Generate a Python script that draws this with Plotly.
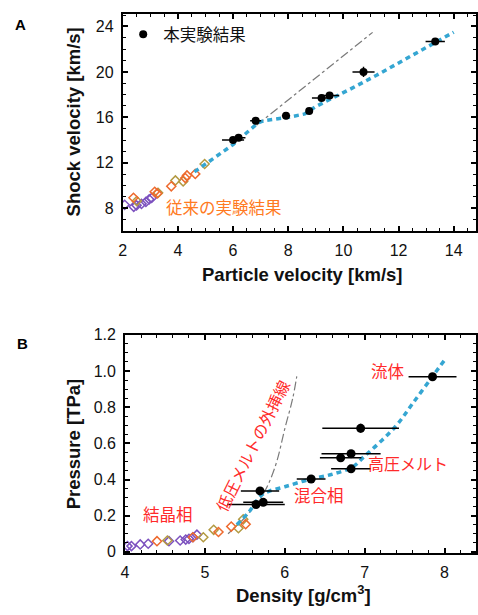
import plotly.graph_objects as go

# ---------------- Panel A data ----------------
a_up = [6.0, 6.2, 6.82, 7.92, 8.76, 9.21, 9.5, 10.73, 13.33]
a_us = [14.0, 14.2, 15.7, 16.13, 16.56, 17.71, 17.92, 20.0, 22.67]
a_up_err = [0.4, 0.25, 0.2, 0.15, 0.1, 0.35, 0.35, 0.4, 0.35]
a_us_err = [0.2, 0.15, 0.3, 0.1, 0.1, 0.1, 0.1, 0.45, 0.1]

a_purple_x = [2.07, 2.40, 2.50, 2.68, 2.84, 2.96, 3.05]
a_purple_y = [8.30, 8.12, 8.25, 8.38, 8.55, 8.78, 8.90]
a_orange_x = [2.39, 3.16, 3.25, 3.76, 4.27, 4.33, 4.63]
a_orange_y = [8.92, 9.44, 9.30, 9.93, 10.65, 10.88, 11.02]
a_olive_x = [2.51, 3.28, 3.91, 4.19, 4.97]
a_olive_y = [8.63, 9.35, 10.44, 10.36, 11.89]

a_fit_x = [4.6, 6.0, 6.9, 7.1, 8.0, 8.6, 9.0, 9.6, 10.3, 11.2, 12.5, 14.0]
a_fit_y = [11.2, 13.6, 15.5, 15.7, 16.0, 16.3, 16.95, 17.65, 18.55, 19.7, 21.5, 23.5]

a_ext_x = [6.85, 11.06]
a_ext_y = [15.3, 23.48]

# ---------------- Panel B data ----------------
b_rho = [7.85, 6.95, 6.83, 6.70, 6.83, 6.33, 5.69, 5.64, 5.73]
b_p = [0.968, 0.683, 0.543, 0.520, 0.459, 0.403, 0.337, 0.262, 0.274]
b_rho_err = [0.30, 0.48, 0.37, 0.26, 0.25, 0.18, 0.24, 0.36, 0.25]
b_p_err = [0.01, 0.025, 0.01, 0.01, 0.01, 0.008, 0.008, 0.008, 0.008]

b_purple_x = [4.03, 4.08, 4.19, 4.29, 4.55, 4.69, 4.76, 4.80, 4.85, 4.90]
b_purple_y = [0.032, 0.032, 0.041, 0.045, 0.059, 0.063, 0.068, 0.072, 0.081, 0.095]
b_orange_x = [4.40, 4.85, 5.17, 5.33, 5.51]
b_orange_y = [0.059, 0.081, 0.110, 0.140, 0.153]
b_olive_x = [4.53, 4.98, 5.11, 5.42, 5.48]
b_olive_y = [0.063, 0.081, 0.122, 0.131, 0.180]

b_fit_x = [5.4, 5.55, 5.7, 5.8, 6.0, 6.3, 6.6, 6.85, 7.0, 7.2, 7.4, 7.6, 7.85, 8.0]
b_fit_y = [0.15, 0.22, 0.31, 0.335, 0.36, 0.40, 0.43, 0.47, 0.53, 0.61, 0.70, 0.82, 0.97, 1.06]

b_ext_x = [5.29, 5.5, 5.7, 5.8, 5.9, 6.0, 6.1, 6.15]
b_ext_y = [0.10, 0.19, 0.30, 0.38, 0.50, 0.68, 0.85, 0.97]

b_yticks = [0, 0.2, 0.4, 0.6, 0.8, 1.0, 1.2]
b_yticktext = ["0", "0.2", "0.4", "0.6", "0.8", "1.0", "1.2"]

PURPLE = "#7d52bf"
ORANGE = "#ee6a2e"
OLIVE = "#b39a42"
CYAN = "#35a6d2"
GRAY = "#7a7a7a"
RED = "#ff2a2a"
JP = "Noto Sans CJK JP"
LAT = "Liberation Sans"

fig = go.Figure()

def diamonds(x, y, color, xa, ya):
    fig.add_trace(go.Scatter(x=x, y=y, mode="markers", xaxis=xa, yaxis=ya,
                             showlegend=False,
                             marker=dict(symbol="diamond-open", size=7, color=color,
                                         line=dict(width=1.5, color=color))))

# Panel A
fig.add_trace(go.Scatter(x=a_ext_x, y=a_ext_y, mode="lines", xaxis="x", yaxis="y",
                         showlegend=False, line=dict(color=GRAY, width=1.2, dash="dashdot")))
diamonds(a_purple_x, a_purple_y, PURPLE, "x", "y")
diamonds(a_olive_x, a_olive_y, OLIVE, "x", "y")
diamonds(a_orange_x, a_orange_y, ORANGE, "x", "y")
fig.add_trace(go.Scatter(x=a_fit_x, y=a_fit_y, mode="lines", xaxis="x", yaxis="y",
                         showlegend=False, line=dict(color=CYAN, width=3.5, dash="5px,4px")))
fig.add_trace(go.Scatter(x=a_up, y=a_us, mode="markers", xaxis="x", yaxis="y",
                         name="本実験結果", showlegend=True,
                         marker=dict(symbol="circle", size=8, color="black"),
                         error_x=dict(type="data", array=a_up_err, color="black", thickness=1.5, width=0),
                         error_y=dict(type="data", array=a_us_err, color="black", thickness=1.5, width=0)))

# Panel B
fig.add_trace(go.Scatter(x=b_ext_x, y=b_ext_y, mode="lines", xaxis="x2", yaxis="y2",
                         showlegend=False, line=dict(color=GRAY, width=1.2, dash="dashdot", shape="spline")))
diamonds(b_purple_x, b_purple_y, PURPLE, "x2", "y2")
diamonds(b_olive_x, b_olive_y, OLIVE, "x2", "y2")
diamonds(b_orange_x, b_orange_y, ORANGE, "x2", "y2")
fig.add_trace(go.Scatter(x=b_fit_x, y=b_fit_y, mode="lines", xaxis="x2", yaxis="y2",
                         showlegend=False, line=dict(color=CYAN, width=3.5, dash="5px,4px", shape="spline")))
fig.add_trace(go.Scatter(x=b_rho, y=b_p, mode="markers", xaxis="x2", yaxis="y2",
                         showlegend=False,
                         marker=dict(symbol="circle", size=9, color="black"),
                         error_x=dict(type="data", array=b_rho_err, color="black", thickness=1.5, width=0),
                         error_y=dict(type="data", array=b_p_err, color="black", thickness=1.5, width=0)))

axis_common = dict(showline=True, linecolor="black", linewidth=1.8, mirror="ticks",
                   ticks="inside", ticklen=5, tickwidth=1.5, tickcolor="black",
                   showgrid=False, zeroline=False,
                   tickfont=dict(family=LAT, size=16, color="#111"))

fig.update_layout(
    width=478, height=615,
    margin=dict(l=0, r=0, t=0, b=0),
    paper_bgcolor="white", plot_bgcolor="white",
    xaxis=dict(domain=[0.251, 0.998], range=[2, 14.81], dtick=2, tick0=2,
               minor=dict(dtick=0.5, ticks="inside", ticklen=3, tickwidth=1.2, tickcolor="black"),
               anchor="y", ticklabelstandoff=4, **axis_common),
    yaxis=dict(domain=[0.6285, 0.990], range=[6, 25.1], tickvals=[8, 12, 16, 20, 24],
               minor=dict(dtick=1, ticks="inside", ticklen=3, tickwidth=1.2, tickcolor="black"),
               anchor="x", ticklabelstandoff=4, **axis_common),
    xaxis2=dict(domain=[0.2559, 0.998], range=[4, 8.395], dtick=1, tick0=4,
                minor=dict(dtick=0.2, ticks="inside", ticklen=3, tickwidth=1.2, tickcolor="black"),
                anchor="y2", ticklabelstandoff=4, **axis_common),
    yaxis2=dict(domain=[0.0911, 0.4553], range=[-0.008, 1.2], tickvals=b_yticks, ticktext=b_yticktext,
                minor=dict(dtick=0.05, ticks="inside", ticklen=3, tickwidth=1.2, tickcolor="black"),
                anchor="x2", ticklabelstandoff=4, **axis_common),
    legend=dict(x=0.252, y=0.985, xanchor="left", yanchor="top", bgcolor="rgba(0,0,0,0)",
                font=dict(family=JP, size=16.5, color="#111"), itemwidth=30),
    showlegend=True,
)

TITLE_SIZE = 18.5
ann = [
    dict(text="<b>A</b>", x=17 / 478, y=1 - 17 / 615, font=dict(family=LAT, size=15, color="black")),
    dict(text="<b>B</b>", x=19 / 478, y=1 - 344 / 615, font=dict(family=LAT, size=15, color="black")),
    dict(text="<b>Shock velocity [km/s]</b>", x=70 / 478, y=1 - 117 / 615, textangle=-90,
         font=dict(family=LAT, size=TITLE_SIZE, color="#111")),
    dict(text="<b>Particle velocity [km/s]</b>", x=302 / 478, y=1 - 273 / 615,
         font=dict(family=LAT, size=TITLE_SIZE, color="#111")),
    dict(text="<b>Pressure [TPa]</b>", x=70 / 478, y=1 - 447 / 615, textangle=-90,
         font=dict(family=LAT, size=TITLE_SIZE, color="#111")),
    dict(text="<b>Density [g/cm<sup>3</sup>]</b>", x=303 / 478, y=1 - 601 / 615,
         font=dict(family=LAT, size=TITLE_SIZE, color="#111")),
    dict(text="従来の実験結果", x=222 / 478, y=1 - 204 / 615, font=dict(family=JP, size=16.5, color="#ff7a22")),
    dict(text="結晶相", x=166 / 478, y=1 - 519 / 615, font=dict(family=JP, size=16.5, color=RED)),
    dict(text="混合相", x=318 / 478, y=1 - 499 / 615, font=dict(family=JP, size=16.5, color=RED)),
    dict(text="高圧メルト", x=408 / 478, y=1 - 466 / 615, font=dict(family=JP, size=16, color=RED)),
    dict(text="流体", x=388 / 478, y=1 - 372 / 615, font=dict(family=JP, size=16.5, color=RED)),
    dict(text="低圧メルトの外挿線", x=251 / 478, y=1 - 448 / 615, textangle=-63.5,
         font=dict(family=JP, size=16, color=RED)),
]
for a in ann:
    a.update(xref="paper", yref="paper", showarrow=False, xanchor="center", yanchor="middle")
fig.update_layout(annotations=ann)

fig.write_html("out.html")
